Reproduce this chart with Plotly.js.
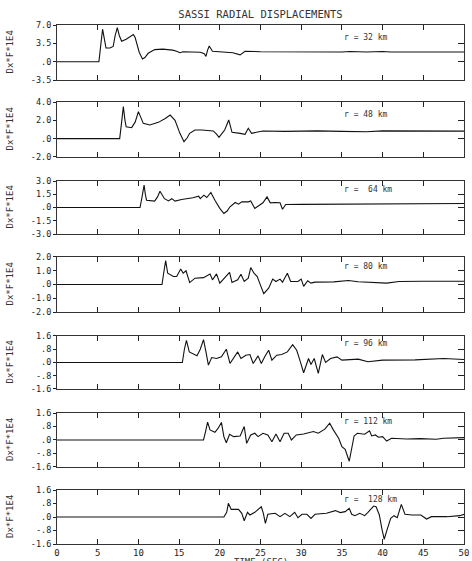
<!DOCTYPE html>
<html>
<head>
<meta charset="utf-8">
<script src="https://cdn.plot.ly/plotly-3.0.1.min.js"></script>
<style>html,body{margin:0;padding:0;background:#fff;}#chart{width:472px;height:561px;}</style>
</head>
<body>
<div id="chart"></div>
<script>
// ---- data (time in seconds, displacement Dx*F*1E4) ----
const radii = ["r = 32 km", "r = 48 km", "r =  64 km", "r = 80 km", "r = 96 km", "r = 112 km", "r =  128 km"];

const t1 = [0,5.15,5.4,5.6,5.8,6.02,6.5,6.9,7.15,7.41,7.65,7.94,8.5,9.0,9.38,9.6,9.8,10.1,10.5,10.8,11.2,12.0,13.0,13.5,14.2,14.7,15.1,15.5,16.5,17.6,18.1,18.3,18.5,18.7,19.1,20.0,20.8,21.6,22.5,23.1,25,28,32,35,36,38,40,41,44,47,50];
const v1 = [0,0,3.5,6.2,4.5,2.6,2.6,2.9,5.0,6.5,5.0,3.9,4.3,4.8,5.2,4.6,3.5,1.8,0.5,0.8,1.6,2.3,2.4,2.35,2.2,2.0,1.7,1.9,1.9,1.8,1.5,1.0,2.2,3.0,2.0,1.9,1.9,1.7,1.3,2.0,1.9,1.85,1.9,1.85,1.95,1.85,1.95,1.85,1.85,1.85,1.85];

const t2 = [0,7.7,7.9,8.15,8.35,8.5,9.17,9.6,10.0,10.3,10.6,11.4,12.45,13.3,13.9,14.5,14.8,15.1,15.6,16.0,16.3,16.95,17.8,18.6,19.2,19.6,19.9,20.3,20.6,21.1,21.35,21.5,22.5,23.1,23.5,23.9,24.5,25.3,28,32,35,37,38,40,43,46,50];
const v2 = [0,0,1.5,3.5,2.0,1.3,1.2,1.8,2.95,2.2,1.67,1.5,1.78,2.2,2.58,2.0,1.3,0.58,-0.33,0.1,0.58,0.95,0.95,0.84,0.84,0.5,0.15,0.6,0.95,2.04,1.2,0.69,0.58,0.47,1.13,0.58,0.7,0.84,0.8,0.85,0.8,0.78,0.75,0.85,0.82,0.8,0.82];

const t3 = [0,10.2,10.45,10.7,10.85,11.0,12.0,12.35,12.65,12.9,13.2,13.7,14.1,14.5,15.3,16.7,17.4,17.6,18.05,18.4,18.9,19.4,20.0,20.5,20.9,21.25,21.9,22.3,22.7,23.5,23.8,24.3,24.9,25.3,25.8,26.2,26.8,27.4,27.7,28.1,30,33,36,39,42,45,48,50];
const v3 = [0,0,1.2,2.53,1.5,0.83,0.72,1.2,1.85,1.4,1.0,0.75,1.0,0.72,0.9,1.1,1.28,1.0,1.4,1.13,1.7,0.83,-0.1,-0.68,-0.4,0.08,0.57,0.38,0.64,0.64,0.75,-0.1,0.34,0.53,1.2,0.53,0.57,0.53,-0.2,0.34,0.36,0.38,0.36,0.40,0.42,0.40,0.44,0.45];

const t4 = [0,12.9,13.1,13.35,13.6,14.3,14.7,15.2,15.5,15.85,16.3,16.95,18.0,18.8,19.1,19.6,20.0,20.4,21.2,21.5,22.2,22.6,23.0,23.5,23.8,24.2,24.6,24.9,25.4,26.0,26.5,26.9,27.4,27.7,28.3,28.7,29.6,30.0,30.3,30.8,31.2,31.7,34,35.8,37,40.5,42,45,48,50];
const v4 = [0,0,0.8,1.73,0.82,0.58,0.58,1.13,0.82,1.0,0.14,0.46,0.5,0.77,0.34,0.77,0.1,0.39,0.89,0.14,0.34,0.75,0.22,0.46,1.23,0.82,0.58,0.1,-0.67,-0.27,0.39,0.22,0.39,0.17,0.82,0.22,0.22,0.39,-0.14,0.27,0.1,0.17,0.19,0.29,0.2,0.1,0.22,0.24,0.26,0.24];

const t5 = [0,15.4,15.65,15.9,16.25,17.2,17.6,18.0,18.3,18.6,19.0,19.6,20.2,20.8,21.25,21.7,22.2,22.6,23.2,23.7,24.1,24.7,25.1,25.55,26.0,26.4,27.0,27.6,28.3,28.95,29.45,29.9,30.3,30.9,31.2,31.6,32.1,32.6,33.0,33.6,34.4,35.0,37,38.2,40,44,47.5,50];
const v5 = [0,0,0.8,1.34,0.64,0.4,0.8,1.38,0.64,-0.16,0.3,0.24,0.34,0.8,-0.06,0.3,0.64,0.24,0.44,0.48,-0.06,0.4,-0.06,0.38,0.74,0.14,0.44,0.48,0.64,1.08,0.74,0.04,-0.62,0.24,-0.12,0.24,-0.66,0.48,0.0,0.24,0.34,0.14,0.2,0.04,0.14,0.16,0.24,0.18];

const t6 = [0,18.0,18.25,18.5,18.8,19.4,19.8,20.2,20.5,20.8,21.2,21.7,22.5,23.0,23.3,23.8,24.3,24.7,25.3,25.9,26.4,26.9,27.4,27.9,28.4,28.8,29.4,30.3,31.5,32.1,32.9,33.5,33.95,34.6,35.0,35.4,35.9,36.2,36.5,36.9,37.8,38.4,38.65,39.1,39.5,40.0,40.5,41.1,42.95,44.6,46.6,47.5,50];
const v6 = [0,0,0.5,1.06,0.6,0.46,0.7,1.04,0.2,-0.16,0.34,0.2,0.24,0.8,-0.2,0.3,0.4,0.2,0.4,0.3,-0.1,0.36,-0.1,0.4,0.4,0.0,0.3,0.36,0.5,0.4,0.64,1.0,0.6,0.1,-0.4,-0.56,-1.26,-0.6,0.24,0.4,0.34,0.54,0.24,0.3,0.16,0.2,-0.06,0.1,0.06,0.08,0.04,0.1,0.14];

const t7 = [0,20.5,20.85,21.05,21.4,22.3,22.7,23.0,23.4,23.7,24.3,25.1,25.35,25.6,25.9,26.8,27.4,28.0,28.6,29.2,29.6,30.1,30.7,31.2,31.7,33.1,34.2,34.8,35.4,35.9,36.2,36.6,37.2,37.8,38.2,38.9,39.2,39.6,39.9,40.2,40.6,41.0,41.4,41.8,42.3,42.75,43.6,44.7,45.4,46.0,47.9,49.5,50];
const v7 = [0,0,0.28,0.81,0.45,0.45,0.22,-0.22,0.28,0.12,0.28,0.61,0.22,-0.38,0.16,0.22,0.02,0.22,0.02,0.28,-0.04,0.16,0.16,-0.08,0.16,0.22,0.38,0.26,0.32,0.51,0.16,0.08,0.22,0.08,0.28,0.65,0.61,0.12,-0.67,-1.32,-0.67,-0.08,0.08,-0.04,0.75,0.16,0.12,0.12,-0.12,0.02,0.02,0.08,0.16];

const yTickVals = [[7,3.5,0,-3.5],[4,2,0,-2],[3,1.5,0,-1.5,-3],[2,1,0,-1,-2],[1.6,0.8,0,-0.8,-1.6],[1.6,0.8,0,-0.8,-1.6],[1.6,0.8,0,-0.8,-1.6]];
const yTickText = [["7.0","3.5",".0","-3.5"],["4.0","2.0",".0","-2.0"],["3.0","1.5",".0","-1.5","-3.0"],["2.0","1.0",".0","-1.0","-2.0"],["1.6",".8",".0","-.8","-1.6"],["1.6",".8",".0","-.8","-1.6"],["1.6",".8",".0","-.8","-1.6"]];
const xTickVals = [0,5,10,15,20,25,30,35,40,45,50];
const xTickText = ["0","5","10","15","20","25","30","35","40","45","50"];
const yLabel = "Dx*F*1E4";
const titleText = "SASSI RADIAL DISPLACEMENTS";
const xTitle = "TIME (SEC)";

// ---- layout geometry ----
const T = [t1,t2,t3,t4,t5,t6,t7];
const V = [v1,v2,v3,v4,v5,v6,v7];
const domains = [[0.894,1.0],[0.7457,0.8516],[0.5973,0.6994],[0.447,0.553],[0.2987,0.4008],[0.1484,0.2524],[0.0,0.104]];
const annY = [0.77,0.78,0.84,0.83,0.85,0.84,0.83];
const font = "DejaVu Sans Mono";
const n = 7;

const traces = [];
const layout = {
  width: 472, height: 561,
  margin: {l: 57, r: 8, t: 25, b: 17},
  paper_bgcolor: "#fff", plot_bgcolor: "#fff",
  showlegend: false,
  font: {family: font, size: 8.5, color: "#222"},
  title: {text: titleText, font: {family: font, size: 10.5, color: "#333"}, x: 0.5, xref: "paper", y: 1 - 14/561, yanchor: "middle"},
  annotations: []
};

for (let i = 0; i < n; i++) {
  const k = i + 1;
  const xs = k === 1 ? "x" : "x" + k;
  const ys = k === 1 ? "y" : "y" + k;
  const yr = k + n;
  traces.push({x: T[i], y: V[i], xaxis: xs, yaxis: ys, type: "scatter", mode: "lines",
    line: {color: "#111", width: 1.1, shape: "linear"}, hoverinfo: "skip"});
  const range = [yTickVals[i][yTickVals[i].length - 1], yTickVals[i][0]];
  layout["xaxis" + (k === 1 ? "" : k)] = {
    domain: [0, 1], range: [0, 50], anchor: ys, tickvals: xTickVals, ticktext: xTickText,
    ticks: "inside", ticklen: 5, tickcolor: "#222", mirror: "ticks", showline: true, linecolor: "#333", linewidth: 1,
    showgrid: false, zeroline: false, showticklabels: k === n, tickfont: {family: font, size: 9, color: "#222"}
  };
  layout["yaxis" + (k === 1 ? "" : k)] = {
    domain: domains[i], range: range, anchor: xs, tickvals: yTickVals[i], ticktext: yTickText[i],
    ticks: "outside", ticklen: 3, tickcolor: "#222", mirror: true, showline: true, linecolor: "#333", linewidth: 1,
    showgrid: false, zeroline: false, tickfont: {family: font, size: 8.5, color: "#222"}
  };
  layout["yaxis" + yr] = {
    overlaying: ys, side: "right", anchor: xs, range: range, tickvals: yTickVals[i],
    ticks: "inside", ticklen: 6, tickcolor: "#222", showticklabels: false, showline: false,
    showgrid: false, zeroline: false
  };
  traces.push({x: [0], y: [range[0]], xaxis: xs, yaxis: "y" + yr, mode: "markers", marker: {opacity: 0}, hoverinfo: "skip"});
  layout.annotations.push({text: radii[i], xref: xs, yref: ys + " domain", x: 35, y: annY[i], xanchor: "left", yanchor: "middle",
    showarrow: false, font: {family: font, size: 8, color: "#333"}});
  layout.annotations.push({text: yLabel, xref: "paper", yref: ys + " domain", x: (10 - 57) / 407, y: 0.5, textangle: -90,
    xanchor: "center", yanchor: "middle", showarrow: false, font: {family: font, size: 9, color: "#333"}});
}
layout.annotations.push({text: xTitle, xref: "paper", yref: "paper", x: 0.5, y: -(562 - 544) / 519, xanchor: "center", yanchor: "middle",
  showarrow: false, font: {family: font, size: 9, color: "#333"}});

Plotly.newPlot("chart", traces, layout, {staticPlot: true, displayModeBar: false});
</script>
</body>
</html>
